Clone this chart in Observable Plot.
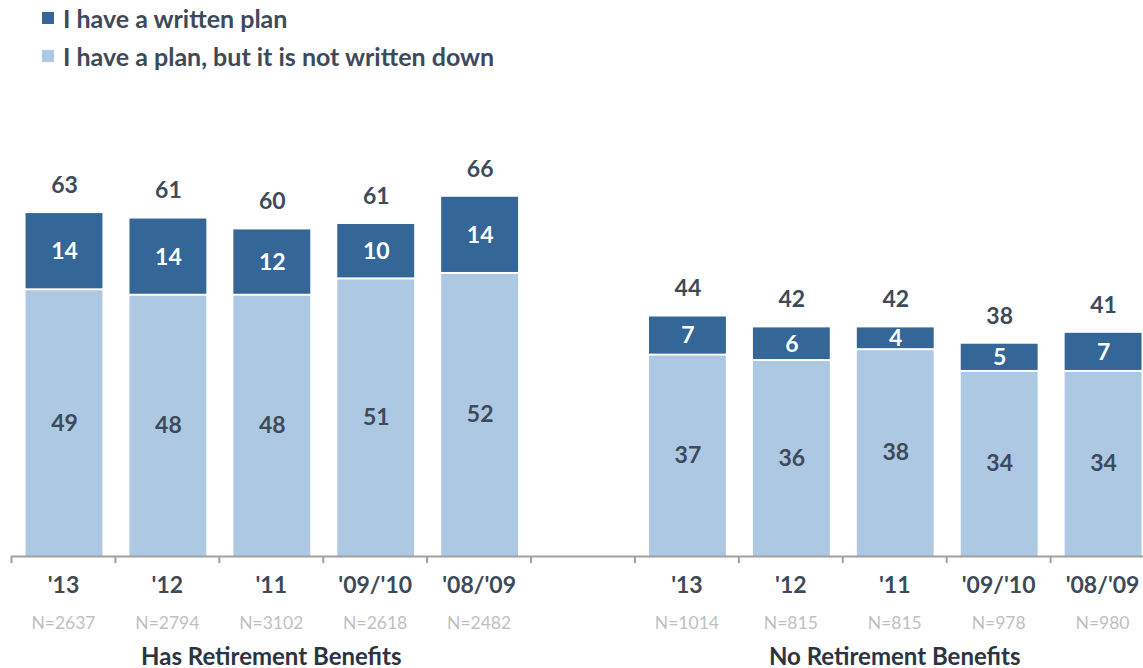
<!DOCTYPE html>
<html>
<head>
<meta charset="utf-8">
<script src="https://cdn.jsdelivr.net/npm/d3@7"></script>
<script src="https://cdn.jsdelivr.net/npm/@observablehq/plot@0.6"></script>
<style>
  html, body { margin: 0; padding: 0; background: #fff; overflow: hidden; width: 1143px; height: 668px; }
  body { font-family: Lato, "Open Sans", sans-serif; position: relative; }
  #legend { position: relative; height: 90px; }
  .li { position: absolute; left: 42px; display: flex; align-items: center; font-weight: 700; font-size: 25px; line-height: 28px; color: #3d4a5a; white-space: nowrap; }
  .sw { width: 12px; height: 12px; margin-right: 9px; }
  #chart svg { display: block; }
</style>
</head>
<body>
<div id="legend"></div>
<div id="chart"></div>
<script>
const seriesNames = ["I have a written plan", "I have a plan, but it is not written down"];
const seriesColors = ["#346697", "#adc8e3"];
const groupNames = ["Has Retirement Benefits", "No Retirement Benefits"];
const periods = ["'13", "'12", "'11", "'09/'10", "'08/'09"];
const writtenHas = [14, 14, 12, 10, 14];
const notWrittenHas = [49, 48, 48, 51, 52];
const totalHas = [63, 61, 60, 61, 66];
const sampleHas = ["N=2637", "N=2794", "N=3102", "N=2618", "N=2482"];
const writtenNo = [7, 6, 4, 5, 7];
const notWrittenNo = [37, 36, 38, 34, 34];
const totalNo = [44, 42, 42, 38, 41];
const sampleNo = ["N=1014", "N=815", "N=815", "N=978", "N=980"];

// legend
const legend = document.getElementById("legend");
seriesNames.forEach((name, i) => {
  const d = document.createElement("div");
  d.className = "li";
  d.style.top = (i === 0 ? 4 : 42) + "px";
  d.innerHTML = `<span class="sw" style="background:${seriesColors[i]}"></span><span>${name}</span>`;
  legend.appendChild(d);
});

// build table: slot index (5 bars, one empty slot, 5 bars)
const rows = [];
[[writtenHas, notWrittenHas, totalHas, sampleHas], [writtenNo, notWrittenNo, totalNo, sampleNo]].forEach((g, gi) => {
  periods.forEach((p, i) => {
    rows.push({
      group: groupNames[gi],
      period: p,
      slot: gi * 6 + i,
      written: g[0][i],
      notWritten: g[1][i],
      total: g[2][i],
      n: g[3][i]
    });
  });
});
const groupRows = groupNames.map((name, gi) => ({name, center: gi * 6 + 2.5}));
const boundaries = d3.range(0, 12);

const textColor = "#3d4a5a";
const font = "Lato, 'Open Sans', sans-serif";

const chart = Plot.plot({
  width: 1143,
  height: 578,
  marginLeft: 11,
  marginRight: -11,
  marginTop: 85,
  marginBottom: 112,
  style: {fontFamily: font, background: "white", overflow: "visible"},
  x: {domain: [0, 11], axis: null},
  y: {domain: [0, 70], axis: null},
  marks: [
    Plot.rect(rows, {x1: d => d.slot + 0.14, x2: d => d.slot + 0.88, y1: 0, y2: "notWritten", fill: seriesColors[1], insetTop: 1}),
    Plot.rect(rows, {x1: d => d.slot + 0.14, x2: d => d.slot + 0.88, y1: "notWritten", y2: d => d.notWritten + d.written, fill: seriesColors[0], insetBottom: 1}),
    Plot.text(rows, {x: d => d.slot + 0.51, y: d => d.notWritten / 2, text: d => String(d.notWritten), fill: textColor, fontSize: 23, fontWeight: 700}),
    Plot.text(rows, {x: d => d.slot + 0.51, y: d => d.notWritten + d.written / 2, text: d => String(d.written), fill: "white", fontSize: 23, fontWeight: 700}),
    Plot.text(rows, {x: d => d.slot + 0.51, y: d => d.notWritten + d.written, text: d => String(d.total), fill: textColor, fontSize: 23, fontWeight: 700, dy: -28}),
    Plot.ruleY([0], {x1: 0, x2: 11, stroke: "#a0a0a0", strokeWidth: 2}),
    Plot.ruleX(boundaries, {x: d => d, y1: 0, y2: -1.3, stroke: "#a0a0a0", strokeWidth: 2}),
    Plot.text(rows, {x: d => d.slot + 0.5, y: 0, text: "period", fill: textColor, fontSize: 23, fontWeight: 700, dy: 29}),
    Plot.text(rows, {x: d => d.slot + 0.5, y: 0, text: "n", fill: "#bfbfbf", fontSize: 17.5, dy: 67}),
    Plot.text(groupRows, {x: "center", y: 0, text: "name", fill: "#2b3441", fontSize: 24, fontWeight: 700, dy: 101})
  ]
});
document.getElementById("chart").appendChild(chart);
</script>
</body>
</html>
